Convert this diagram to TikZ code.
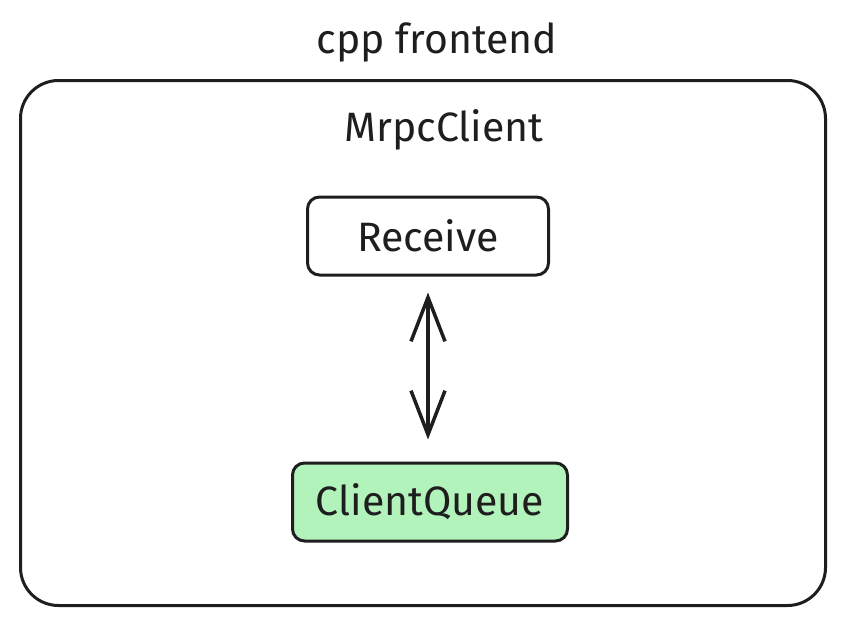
\documentclass[tikz,border=0pt]{standalone}
\usepackage{fontspec}
\setmainfont{Fira Sans}
\usetikzlibrary{arrows.meta}
\definecolor{queuegreen}{HTML}{B2F2BB}
\definecolor{ink}{HTML}{1E1E1E}

\begin{document}
\begin{tikzpicture}[x=1pt,y=-1pt,
    every node/.style={text=ink},
    label text/.style={font=\fontsize{41}{48}\selectfont},
    boxnode/.style={draw=ink, line width=3pt, rounded corners=12pt,
      minimum height=78pt, font=\fontsize{41}{48}\selectfont}]
      \useasboundingbox (0,0) rectangle (845,626);
      % outer frame
      \node [draw=ink, line width=3pt, rounded corners=38pt,
        minimum width=805pt, minimum height=525pt] (frontend) at (423,343) {};
      \node [label text] (title) at (437,42) {cpp frontend};
      \node [label text] (client) at (444,130) {MrpcClient};
      % inner boxes
      \node [boxnode, minimum width=241pt] (receive) at (428,236) {Receive};
      \node [boxnode, fill=queuegreen, minimum width=275pt] (queue) at (430,502) {ClientQueue};
      \draw [ink, line width=3.5pt, line cap=round,
        {Straight Barb[length=44pt,width=34pt]}-{Straight Barb[length=44pt,width=34pt]},
        shorten <=16pt, shorten >=22pt] (receive.south) -- (receive.south |- queue.north);
    \end{tikzpicture}
\end{document}
